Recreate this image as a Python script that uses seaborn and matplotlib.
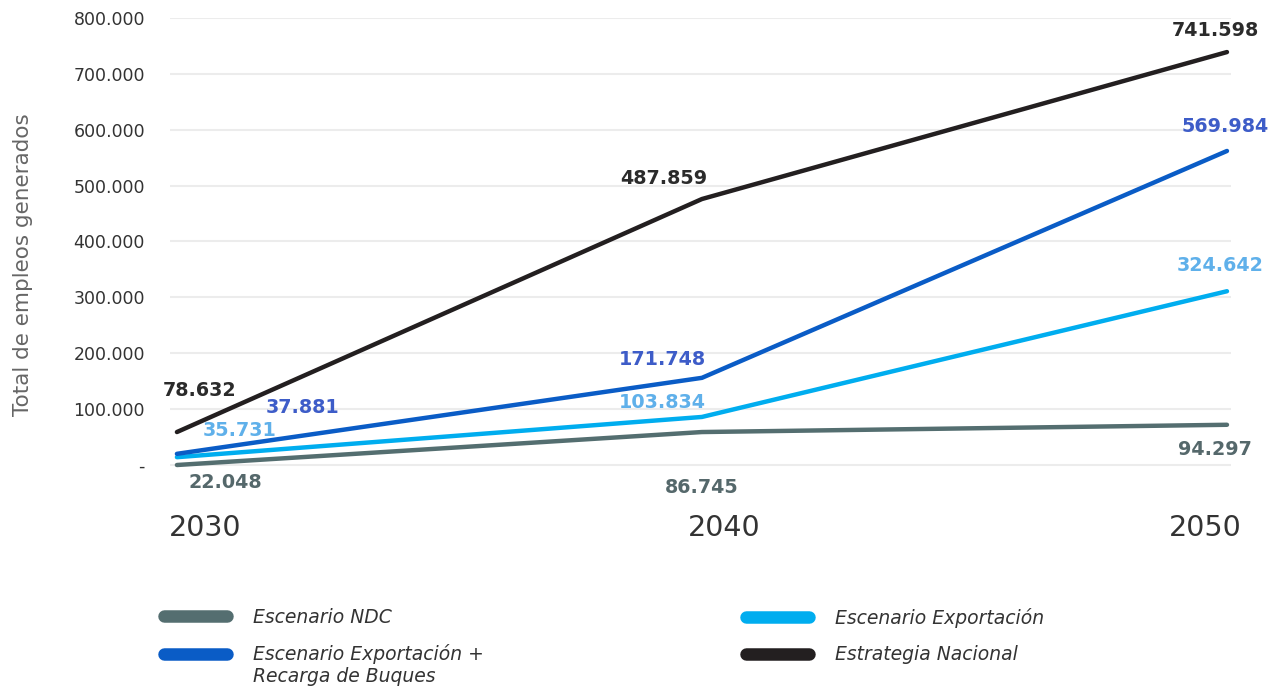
import numpy as np
import pandas as pd
import matplotlib
matplotlib.use('Agg')
import matplotlib.pyplot as plt
import matplotlib.transforms as mtrans
from matplotlib.lines import Line2D
import seaborn as sns

# -----------------------

years = [2030, 2040, 2050]

ndc = [0, 59000, 72000]
exportacion = [14000, 86000, 311000]
recarga = [20000, 156000, 562000]
estrategia = [59000, 476000, 739000]

ndc_lbl = ['22.048', '86.745', '94.297']
exportacion_lbl = ['35.731', '103.834', '324.642']
recarga_lbl = ['37.881', '171.748', '569.984']
estrategia_lbl = ['78.632', '487.859', '741.598']

names = ['Escenario NDC', 'Escenario Exportación',
	'Escenario Exportación +\nRecarga de Buques', 'Estrategia Nacional']

yticks = [0, 100000, 200000, 300000, 400000, 500000, 600000, 700000, 800000]
yticklabels = ['-', '100.000', '200.000', '300.000', '400.000',
	'500.000', '600.000', '700.000', '800.000']

# -----------------------

line_colors = ['#546e70', '#00adef', '#0a5cc6', '#231f20']
text_colors = ['#55686b', '#5fb0ea', '#3d5cc8', '#2b2b2b']

# label offsets in pixels from each point
offsets = [
	[(48, -17), (0, -55), (-12, -25)],
	[(63, 27), (-40, 14), (-7, 26)],
	[(126, 46), (-40, 18), (-2, 24)],
	[(23, 42), (-38, 21), (-12, 22)],
]

df = pd.DataFrame({
	'year': years * 4,
	'value': ndc + exportacion + recarga + estrategia,
	'scenario': np.repeat(names, len(years)),
})
labels = [ndc_lbl, exportacion_lbl, recarga_lbl, estrategia_lbl]

sns.set_style('white')
plt.rcParams['font.family'] = ['DejaVu Sans']

fig = plt.figure(figsize=(12.71, 6.86), dpi=100)
ax = fig.add_axes([0.1337, 0.314, 0.8348, 0.6598])

ax = sns.lineplot(data=df, x='year', y='value', hue='scenario',
	palette=dict(zip(names, line_colors)), lw=3.2, legend=False, ax=ax)

for i, name in enumerate(names):
	vals = df[df['scenario'] == name]['value'].values
	for j, yr in enumerate(years):
		ax.annotate(labels[i][j], (yr, vals[j]), xytext=offsets[i][j],
			textcoords='offset pixels', ha='center', va='center',
			fontsize=13.8, fontweight='bold', color=text_colors[i])

ax.set_xlim(2029.867, 2050.076)
ax.set_ylim(-10000, 800000)
ax.set_yticks(yticks)
ax.set_yticklabels(yticklabels, fontsize=12.5, color='#333333')
ax.set_xticks(years)
ax.set_xticklabels([str(y) for y in years], fontsize=20.5, color='#333333')
ax.tick_params(axis='x', pad=31, length=0)
ax.tick_params(axis='y', pad=18, length=0)

# year labels sit a bit off their ticks in the original
for lbl, dx in zip(ax.get_xticklabels(), [28, 22, -22]):
	lbl.set_transform(lbl.get_transform() + mtrans.Affine2D().translate(dx, 0))

ax.set_xlabel('')
ax.set_ylabel('Total de empleos generados', fontsize=15.5, color='#666666')
ax.yaxis.set_label_coords(-0.129, 0.454)

ax.grid(axis='y', color='#ececec', lw=1.5)
ax.grid(axis='x', visible=False)
sns.despine(left=True, bottom=True)

def handle(c):
	return Line2D([], [], color=c, lw=9, solid_capstyle='round')

legend_kw = dict(loc='center left', frameon=False,
	prop={'style': 'italic', 'size': 13.5}, handlelength=3.35, handletextpad=1.4,
	labelspacing=0.95, labelcolor='#333333')

fig.legend([handle(line_colors[0]), handle(line_colors[2])],
	[names[0], names[2].split('\n')[0]],
	bbox_to_anchor=(0.1156, 1 - 636 / 686), **legend_kw)
fig.text(253 / 1271, 1 - 677 / 686, names[2].split('\n')[1], ha='left', va='center',
	style='italic', fontsize=13.5, color='#333333')
fig.legend([handle(line_colors[1]), handle(line_colors[3])], [names[1], names[3]],
	bbox_to_anchor=(0.574, 1 - 636 / 686), **legend_kw)

plt.savefig('out.png', dpi=100)
